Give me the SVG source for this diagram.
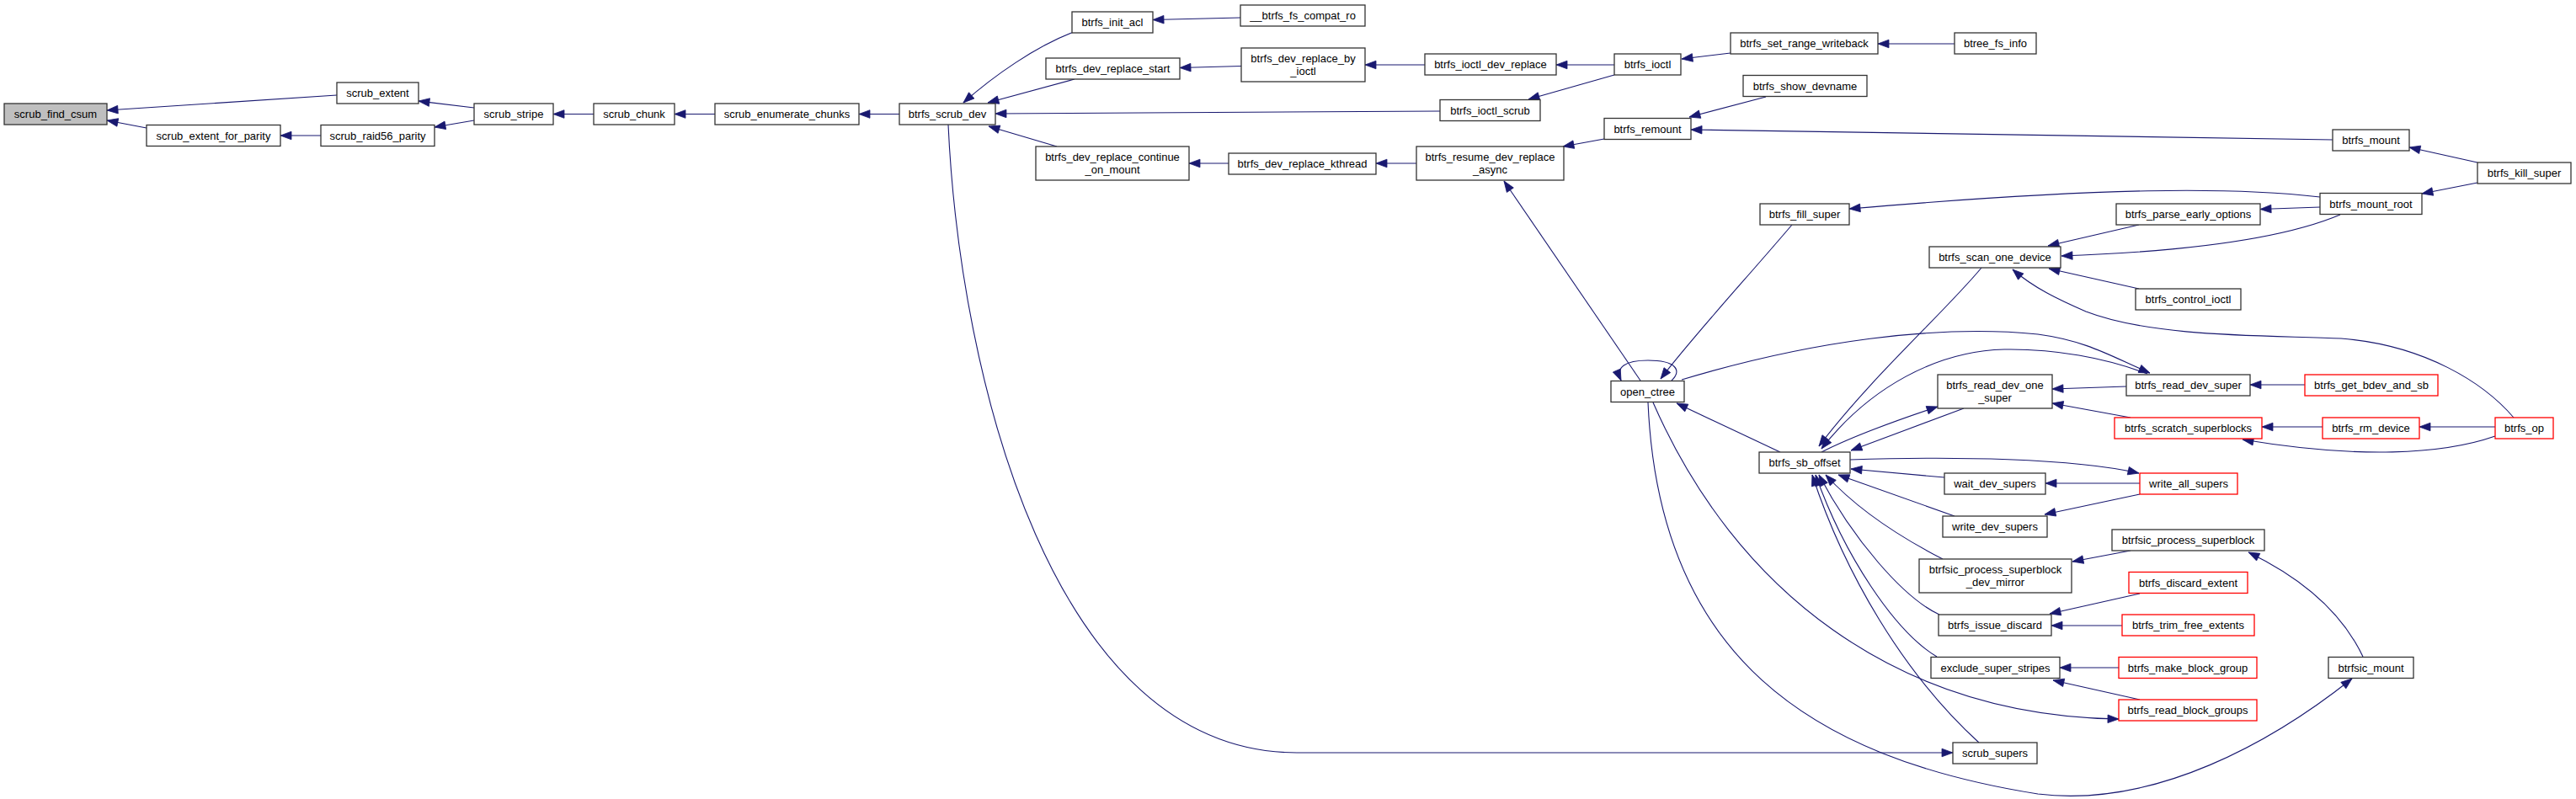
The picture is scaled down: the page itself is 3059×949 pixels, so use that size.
<svg xmlns="http://www.w3.org/2000/svg" width="3059" height="949" viewBox="0 0 3059 949">
<style>
.n rect{fill:#fff;stroke:#333;stroke-width:1.3}
.n.r rect{stroke:#f00}
.n.root rect{fill:#bfbfbf}
.n text{font-family:"Liberation Sans",Arial,sans-serif;font-size:13px;text-anchor:middle;fill:#000}
.e path{fill:none;stroke:#191970;stroke-width:1.1;marker-end:url(#a)}
</style>
<defs>
<marker id="a" markerWidth="14" markerHeight="10" refX="13" refY="5" orient="auto" markerUnits="userSpaceOnUse" overflow="visible">
<path d="M0,0.2 L13,5 L0,9.8 z" fill="#191970" stroke="#191970" stroke-width="0.8"/>
</marker>
</defs>
<rect width="3059" height="949" fill="#fff"/>
<g id="connectors" class="e">
<path d="M400,113 L127,131"/>
<path d="M174,152 L127,143"/>
<path d="M563,128 L497,120"/>
<path d="M381,161 L333,161"/>
<path d="M563,143 L516,151"/>
<path d="M705,135.5 L657,135.5"/>
<path d="M849,135.5 L801,135.5"/>
<path d="M1068,135.5 L1020,135.5"/>
<path d="M1275,38 C1230,55 1180,90 1144,122"/>
<path d="M1276,94 L1173,122"/>
<path d="M1710,132 L1182,135"/>
<path d="M1255,174 L1174,150"/>
<path d="M1126,148 C1140,450 1250,894 1540,894 L2319,894"/>
<path d="M1473,21 L1369,23.5"/>
<path d="M1474,78.5 L1401,80.5"/>
<path d="M1692,77 L1621,77"/>
<path d="M1917,77 L1848,77"/>
<path d="M1917,89 L1815,118"/>
<path d="M2055,63 L1997,70"/>
<path d="M2321,52 L2230,52"/>
<path d="M1459,194 L1412,194"/>
<path d="M1682,194 L1634,194"/>
<path d="M1905,165 L1856,174"/>
<path d="M2097,115 L2006,139"/>
<path d="M2770,166 L2008,154"/>
<path d="M2942,193 L2861,175"/>
<path d="M2942,217 L2876,230"/>
<path d="M2755,234 C2650,222 2500,222 2196,248"/>
<path d="M2755,246 L2684,248.5"/>
<path d="M2779,255 C2720,280 2620,298 2448,304"/>
<path d="M2540,267 L2432,292"/>
<path d="M2540,343 L2433,319"/>
<path d="M2985,496 C2950,455 2880,410 2780,402 C2700,398 2560,402 2477,370 C2445,356 2415,342 2390,320"/>
<path d="M2128,267 C2070,335 2010,400 1972,450"/>
<path d="M1948,452 L1786,215"/>
<path d="M1985,452 C1998,440 1990,428 1957,428 C1930,428 1918,436 1925,452"/>
<path d="M1997,451 C2150,405 2300,385 2420,397 C2480,405 2510,425 2553,443"/>
<path d="M2550,444 C2500,425 2440,414 2380,415 C2300,417 2220,460 2163,533"/>
<path d="M2353,318 C2310,370 2220,450 2160,530"/>
<path d="M2114,537 L1991,479"/>
<path d="M2163,537 C2200,518 2250,500 2301,483"/>
<path d="M2332,485 L2198,535"/>
<path d="M2525,459 L2437,462"/>
<path d="M2737,457 L2672,457"/>
<path d="M2530,496 L2437,479"/>
<path d="M2758,507 L2686,507"/>
<path d="M2963,507 L2873,507"/>
<path d="M2963,518 C2900,540 2800,545 2663,522"/>
<path d="M2309,567 L2198,557"/>
<path d="M2197,546 C2320,542 2460,544 2540,562"/>
<path d="M2541,574 L2429,574"/>
<path d="M2541,587 L2428,611"/>
<path d="M2321,613 L2183,564"/>
<path d="M2307,664 C2270,645 2210,610 2168,564"/>
<path d="M2303,730 C2260,710 2200,640 2160,564"/>
<path d="M2300,780 C2250,750 2190,660 2156,564"/>
<path d="M2350,882 C2260,800 2190,680 2152,564"/>
<path d="M2530,654 L2461,667"/>
<path d="M2806,780 C2780,725 2730,685 2670,656"/>
<path d="M2541,705 L2434,729"/>
<path d="M2520,743 L2436,743"/>
<path d="M2516,793 L2446,793"/>
<path d="M2541,831 L2438,808"/>
<path d="M1963,478 C2060,700 2250,850 2516,854"/>
<path d="M1957,478 C1970,780 2150,900 2420,943 C2560,960 2700,880 2793,806"/>
</g>
<g id="n1" class="n root"><rect x="5" y="123" width="122" height="25"/><text x="66" y="140">scrub_find_csum</text></g>
<g id="n2" class="n"><rect x="174" y="148.5" width="159" height="25"/><text x="253.5" y="165.5">scrub_extent_for_parity</text></g>
<g id="n3" class="n"><rect x="400" y="98" width="97" height="25"/><text x="448.5" y="115">scrub_extent</text></g>
<g id="n4" class="n"><rect x="381" y="148.5" width="135" height="25"/><text x="448.5" y="165.5">scrub_raid56_parity</text></g>
<g id="n5" class="n"><rect x="563" y="123" width="94" height="25"/><text x="610" y="140">scrub_stripe</text></g>
<g id="n6" class="n"><rect x="705" y="123" width="96" height="25"/><text x="753" y="140">scrub_chunk</text></g>
<g id="n7" class="n"><rect x="849" y="123" width="171" height="25"/><text x="934.5" y="140">scrub_enumerate_chunks</text></g>
<g id="n8" class="n"><rect x="1068" y="123" width="114" height="25"/><text x="1125" y="140">btrfs_scrub_dev</text></g>
<g id="n9" class="n"><rect x="1273" y="14" width="96" height="25"/><text x="1321" y="31">btrfs_init_acl</text></g>
<g id="n10" class="n"><rect x="1242" y="69" width="159" height="25"/><text x="1321.5" y="86">btrfs_dev_replace_start</text></g>
<g id="n11" class="n"><rect x="1230" y="174" width="182" height="40"/><text x="1321" y="191">btrfs_dev_replace_continue</text><text x="1321" y="205.5">_on_mount</text></g>
<g id="n12" class="n"><rect x="1473" y="6" width="148" height="25"/><text x="1547" y="23">__btrfs_fs_compat_ro</text></g>
<g id="n13" class="n"><rect x="1474" y="57" width="147" height="40"/><text x="1547.5" y="74">btrfs_dev_replace_by</text><text x="1547.5" y="88.5">_ioctl</text></g>
<g id="n14" class="n"><rect x="1459" y="182" width="175" height="25"/><text x="1546.5" y="199">btrfs_dev_replace_kthread</text></g>
<g id="n15" class="n"><rect x="1692" y="64" width="156" height="25"/><text x="1770" y="81">btrfs_ioctl_dev_replace</text></g>
<g id="n16" class="n"><rect x="1710" y="118.5" width="119" height="25"/><text x="1769.5" y="135.5">btrfs_ioctl_scrub</text></g>
<g id="n17" class="n"><rect x="1682" y="174" width="175" height="40"/><text x="1769.5" y="191">btrfs_resume_dev_replace</text><text x="1769.5" y="205.5">_async</text></g>
<g id="n18" class="n"><rect x="1917" y="64" width="79" height="25"/><text x="1956.5" y="81">btrfs_ioctl</text></g>
<g id="n19" class="n"><rect x="1905" y="140.5" width="103" height="25"/><text x="1956.5" y="157.5">btrfs_remount</text></g>
<g id="n20" class="n"><rect x="1913" y="452.5" width="87" height="25"/><text x="1956.5" y="469.5">open_ctree</text></g>
<g id="n21" class="n"><rect x="2055" y="39" width="175" height="25"/><text x="2142.5" y="56">btrfs_set_range_writeback</text></g>
<g id="n22" class="n"><rect x="2070" y="89.5" width="147" height="25"/><text x="2143.5" y="106.5">btrfs_show_devname</text></g>
<g id="n23" class="n"><rect x="2090" y="242" width="106" height="25"/><text x="2143" y="259">btrfs_fill_super</text></g>
<g id="n24" class="n"><rect x="2089" y="537" width="108" height="25"/><text x="2143" y="554">btrfs_sb_offset</text></g>
<g id="n25" class="n"><rect x="2321" y="39" width="97" height="25"/><text x="2369.5" y="56">btree_fs_info</text></g>
<g id="n26" class="n"><rect x="2291" y="293" width="156" height="25"/><text x="2369" y="310">btrfs_scan_one_device</text></g>
<g id="n27" class="n"><rect x="2301" y="445" width="136" height="40"/><text x="2369" y="462">btrfs_read_dev_one</text><text x="2369" y="476.5">_super</text></g>
<g id="n28" class="n"><rect x="2309" y="562" width="120" height="25"/><text x="2369" y="579">wait_dev_supers</text></g>
<g id="n29" class="n"><rect x="2307" y="613" width="124" height="25"/><text x="2369" y="630">write_dev_supers</text></g>
<g id="n30" class="n"><rect x="2279" y="664" width="181" height="40"/><text x="2369.5" y="681">btrfsic_process_superblock</text><text x="2369.5" y="695.5">_dev_mirror</text></g>
<g id="n31" class="n"><rect x="2302" y="730" width="134" height="25"/><text x="2369" y="747">btrfs_issue_discard</text></g>
<g id="n32" class="n"><rect x="2293" y="780.5" width="153" height="25"/><text x="2369.5" y="797.5">exclude_super_stripes</text></g>
<g id="n33" class="n"><rect x="2319" y="882" width="100" height="25"/><text x="2369" y="899">scrub_supers</text></g>
<g id="n34" class="n"><rect x="2513" y="242" width="171" height="25"/><text x="2598.5" y="259">btrfs_parse_early_options</text></g>
<g id="n35" class="n"><rect x="2536" y="343" width="125" height="25"/><text x="2598.5" y="360">btrfs_control_ioctl</text></g>
<g id="n36" class="n"><rect x="2525" y="445" width="147" height="25"/><text x="2598.5" y="462">btrfs_read_dev_super</text></g>
<g id="n37" class="n r"><rect x="2511" y="496" width="175" height="25"/><text x="2598.5" y="513">btrfs_scratch_superblocks</text></g>
<g id="n38" class="n r"><rect x="2541" y="562" width="116" height="25"/><text x="2599" y="579">write_all_supers</text></g>
<g id="n39" class="n"><rect x="2508" y="629" width="181" height="25"/><text x="2598.5" y="646">btrfsic_process_superblock</text></g>
<g id="n40" class="n r"><rect x="2528" y="679.5" width="141" height="25"/><text x="2598.5" y="696.5">btrfs_discard_extent</text></g>
<g id="n41" class="n r"><rect x="2520" y="730" width="157" height="25"/><text x="2598.5" y="747">btrfs_trim_free_extents</text></g>
<g id="n42" class="n r"><rect x="2516" y="780.5" width="164" height="25"/><text x="2598" y="797.5">btrfs_make_block_group</text></g>
<g id="n43" class="n r"><rect x="2516" y="831" width="164" height="25"/><text x="2598" y="848">btrfs_read_block_groups</text></g>
<g id="n44" class="n"><rect x="2770" y="154" width="91" height="25"/><text x="2815.5" y="171">btrfs_mount</text></g>
<g id="n45" class="n"><rect x="2755" y="229.5" width="121" height="25"/><text x="2815.5" y="246.5">btrfs_mount_root</text></g>
<g id="n46" class="n r"><rect x="2737" y="445" width="158" height="25"/><text x="2816" y="462">btrfs_get_bdev_and_sb</text></g>
<g id="n47" class="n r"><rect x="2758" y="496" width="115" height="25"/><text x="2815.5" y="513">btrfs_rm_device</text></g>
<g id="n48" class="n"><rect x="2765" y="780.5" width="101" height="25"/><text x="2815.5" y="797.5">btrfsic_mount</text></g>
<g id="n49" class="n"><rect x="2942" y="193" width="111" height="25"/><text x="2997.5" y="210">btrfs_kill_super</text></g>
<g id="n50" class="n r"><rect x="2963" y="496" width="69" height="25"/><text x="2997.5" y="513">btrfs_op</text></g>
</svg>
